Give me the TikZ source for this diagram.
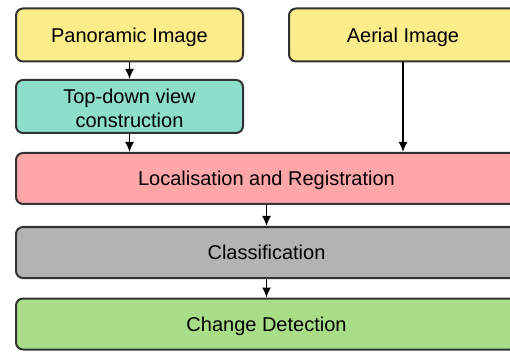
\documentclass[tikz,border=0pt]{standalone}
\usepackage{fontspec}
\setmainfont{Liberation Sans}
\usetikzlibrary{arrows.meta}

\definecolor{boxyellow}{RGB}{252,236,138}
\definecolor{boxteal}{RGB}{142,222,204}
\definecolor{boxred}{RGB}{255,166,168}
\definecolor{boxgrey}{RGB}{179,179,179}
\definecolor{boxgreen}{RGB}{168,222,136}
\definecolor{boxline}{RGB}{50,50,50}

\begin{document}
\begin{tikzpicture}[x=1pt, y=-1pt,
    stage/.style={draw=boxline, line width=2pt, rounded corners=7pt, inner sep=0pt,
        align=center, font=\fontsize{20}{24}\selectfont},
    oneline/.style={text depth=0pt},
    narrow/.style={stage, minimum width=227pt, minimum height=53pt},
    wide/.style={stage, oneline, minimum width=501pt, minimum height=51pt},
    flow/.style={-{Latex[length=10pt, width=9pt]}, line width=1.6pt}]
        \useasboundingbox (0, 0) rectangle (510, 352);
        \clip (0, 0) rectangle (510, 352);
        % inputs
        \node[narrow, oneline, fill=boxyellow] (pano) at (129.5, 35) {Panoramic Image};
        \node[narrow, oneline, fill=boxyellow, minimum width=228pt] (aerial) at (403, 35) {Aerial Image};
        \node[narrow, fill=boxteal] (topdown) at (129.5, 106.5) {\rule{0pt}{18pt}Top-down view\\construction};
        % pipeline
        \node[wide, fill=boxred] (loc) at (266.5, 178.5) {Localisation and Registration};
        \node[wide, fill=boxgrey] (classif) at (266.5, 252.5) {Classification};
        \node[wide, fill=boxgreen] (change) at (266.5, 324) {Change Detection};
        % arrows
        \draw[flow] (pano) -- (topdown);
        \draw[flow] (topdown.south) -- (topdown.south |- loc.north);
        \draw[flow] (aerial.south) -- (aerial.south |- loc.north);
        \draw[flow] (loc) -- (classif);
        \draw[flow] (classif) -- (change);
\end{tikzpicture}
\end{document}
